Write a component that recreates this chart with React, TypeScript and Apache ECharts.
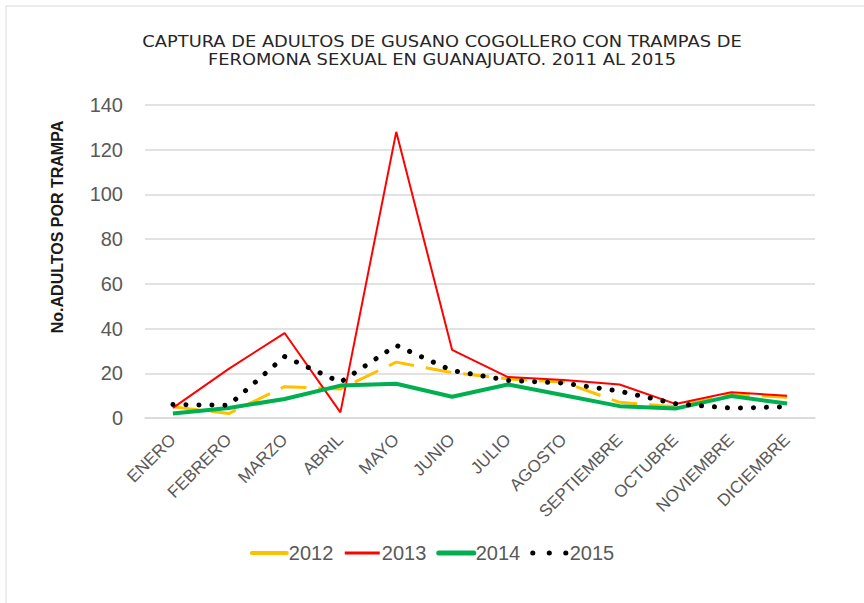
import React, { useEffect, useRef } from "react";
import * as echarts from "echarts";

const titleLines = [
  "CAPTURA DE ADULTOS DE GUSANO COGOLLERO CON TRAMPAS DE",
  "FEROMONA SEXUAL EN GUANAJUATO. 2011 AL 2015",
];
const yAxisTitle = "No.ADULTOS POR TRAMPA";
const months = [
  "ENERO", "FEBRERO", "MARZO", "ABRIL", "MAYO", "JUNIO",
  "JULIO", "AGOSTO", "SEPTIEMBRE", "OCTUBRE", "NOVIEMBRE", "DICIEMBRE",
];
const seriesNames = ["2012", "2013", "2014", "2015"];
const values2012 = [5, 2, 14, 13, 25, 20.3, 17.5, 16, 7, 5, 10.5, 9.3];
const values2013 = [4.5, 22, 38, 2.5, 128, 30.5, 18.3, 17, 15, 6.3, 11.5, 10];
const values2014 = [2, 4.5, 8.5, 14.5, 15.3, 9.5, 15, 10.2, 5.3, 4.2, 9.8, 6.5];
const values2015 = [6, 5.7, 27.5, 16, 32.5, 21.2, 16.8, 15.6, 12, 6.4, 4.4, 5];

export default function App() {
  const ref = useRef<HTMLDivElement>(null);
  useEffect(() => {
    if (!ref.current) return;
    const chart = echarts.init(ref.current, null, { renderer: "svg" });
    const axisTextColor = "#595959";
    chart.setOption({
      animation: false,
      backgroundColor: "#ffffff",
      graphic: [
        {
          type: "rect",
          shape: { x: 6, y: 6, width: 900, height: 700 },
          style: { fill: "none", stroke: "#d9d9d9", lineWidth: 1 },
          silent: true,
        },
        {
          type: "text",
          x: 442,
          y: 42,
          scaleX: 1.19,
          style: {
            text: titleLines[0],
            fontFamily: "DejaVu Sans",
            fontSize: 15,
            fill: "#262626",
            align: "center",
            verticalAlign: "middle",
          },
        },
        {
          type: "text",
          x: 442,
          y: 60,
          scaleX: 1.19,
          style: {
            text: titleLines[1],
            fontFamily: "DejaVu Sans",
            fontSize: 15,
            fill: "#262626",
            align: "center",
            verticalAlign: "middle",
          },
        },
        {
          type: "text",
          x: 57,
          y: 227,
          rotation: Math.PI / 2,
          style: {
            text: yAxisTitle,
            fontFamily: "Liberation Sans",
            fontSize: 16,
            fontWeight: "bold",
            fill: "#1a1a1a",
            align: "center",
            verticalAlign: "middle",
          },
        },
      ],
      legend: {
        data: [
          { name: seriesNames[0], lineStyle: { type: "solid", width: 4, cap: "round" } },
          { name: seriesNames[1], lineStyle: { type: "solid", width: 3 } },
          { name: seriesNames[2], lineStyle: { type: "solid", width: 5, cap: "round" } },
          { name: seriesNames[3], lineStyle: { type: [0.1, 16.4], width: 5, cap: "round" } },
        ],
        left: "center",
        top: 538,
        itemWidth: 35,
        itemHeight: 14,
        itemGap: 10,
        itemStyle: { opacity: 0 },
        textStyle: {
          fontFamily: "Liberation Sans",
          fontSize: 20,
          color: axisTextColor,
          padding: [0, 0, 0, -3],
        },
      },
      grid: { left: 145, right: 49, top: 105, bottom: 185 },
      xAxis: {
        type: "category",
        data: months,
        boundaryGap: true,
        axisLine: { lineStyle: { color: "#d9d9d9", width: 1.5 } },
        axisTick: { show: false },
        axisLabel: {
          rotate: 45,
          margin: 19,
          interval: 0,
          fontFamily: "Liberation Sans",
          fontSize: 17,
          color: axisTextColor,
        },
      },
      yAxis: {
        type: "value",
        min: 0,
        max: 140,
        interval: 20,
        axisLine: { show: false },
        axisTick: { show: false },
        splitLine: { lineStyle: { color: "#d9d9d9", width: 1.5 } },
        axisLabel: {
          margin: 22,
          fontFamily: "Liberation Sans",
          fontSize: 20,
          color: axisTextColor,
        },
      },
      series: [
        {
          name: seriesNames[0],
          type: "line",
          data: values2012,
          symbol: "none",
          color: "#FFC000",
          lineStyle: { color: "#FFC000", width: 3, type: [26, 12] },
          z: 2,
        },
        {
          name: seriesNames[1],
          type: "line",
          data: values2013,
          symbol: "none",
          color: "#FF0000",
          lineStyle: { color: "#FF0000", width: 2 },
          z: 3,
        },
        {
          name: seriesNames[2],
          type: "line",
          data: values2014,
          symbol: "none",
          color: "#00B050",
          lineStyle: { color: "#00B050", width: 4 },
          z: 4,
        },
        {
          name: seriesNames[3],
          type: "line",
          data: values2015,
          symbol: "none",
          color: "#000000",
          lineStyle: { color: "#000000", width: 5, type: [0.1, 12.9], cap: "round" },
          z: 5,
        },
      ],
    });
    return () => chart.dispose();
  }, []);
  return (
    <div
      ref={ref}
      style={{ position: "fixed", left: 0, top: 0, width: 864, height: 603 }}
    />
  );
}
